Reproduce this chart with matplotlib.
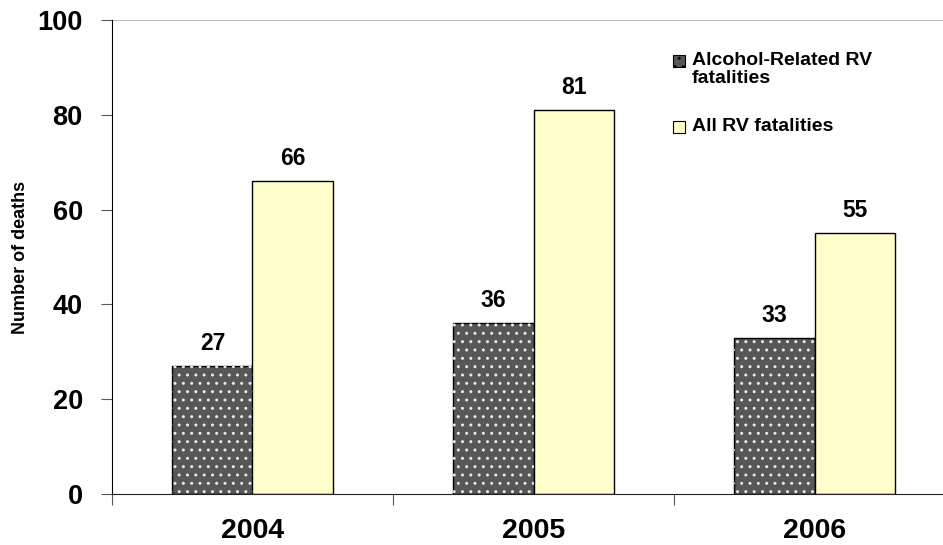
import matplotlib.pyplot as plt
from matplotlib.patches import Rectangle
import numpy as np

plt.rcParams['font.family'] = ['Liberation Sans', 'DejaVu Sans']
plt.rcParams['hatch.linewidth'] = 1.0

years = ["2004", "2005", "2006"]
alcohol = [27, 36, 33]
all_rv = [66, 81, 55]
labels = ["Alcohol-Related RV\nfatalities", "All RV fatalities"]
colors = ["#575757", "#ffffcc"]

W, H = 943, 545
fig = plt.figure(figsize=(W / 100, H / 100), dpi=100)
# the plot area runs off the right edge, as in the original
ax = fig.add_axes([112 / W, 51 / H, 843 / W, 474 / H])

x = np.arange(len(years)) + 0.5
w = 0.285

ax.bar(x - w / 2, alcohol, w, color=colors[0], edgecolor="black", lw=1, zorder=2)
# white dots on top of the dark bars
ax.bar(x - w / 2, alcohol, w, fill=False, hatch="..", edgecolor="#e8e8e8",
       lw=0, zorder=3)
ax.bar(x + w / 2, all_rv, w, color=colors[1], edgecolor="black", lw=1, zorder=2)

for xi, v in zip(x - w / 2, alcohol):
    ax.text(xi, v + 2.3, str(v), ha="center", va="bottom", fontsize=16.5, fontweight="bold")
for xi, v in zip(x + w / 2, all_rv):
    ax.text(xi, v + 2.3, str(v), ha="center", va="bottom", fontsize=16.5, fontweight="bold")

ax.axhline(100, color="#b0b0b0", lw=1.2, zorder=1)

ax.set_xlim(0, 3)
ax.set_ylim(0, 100)
ax.set_yticks(range(0, 101, 20))
ax.set_yticklabels([str(v) for v in range(0, 101, 20)], fontsize=19.5, fontweight="bold")
ax.set_xticks([0, 1, 2])
ax.set_xticklabels([])
ax.set_xticks(x, minor=True)
ax.set_xticklabels(years, minor=True, fontsize=20.5, fontweight="bold")
ax.tick_params(axis="x", which="minor", length=0, pad=17)
ax.tick_params(axis="x", which="major", length=8, color="#555555")
ax.tick_params(axis="y", length=8, color="#555555", pad=13)

ax.set_ylabel("Number of deaths", fontsize=13, fontweight="bold", labelpad=6)

for s in ["top", "right"]:
    ax.spines[s].set_visible(False)
ax.spines["bottom"].set_color("#222222")

# legend built by hand: swatch lines up with the first text line
leg_y = [61, 127]  # pixel rows from the top
for lab, col, yy, hatch in zip(labels, colors, leg_y, ["..", None]):
    fig.patches.append(Rectangle(((673) / W, 1 - (yy + 6) / H), 12 / W, 12 / H,
                                 transform=fig.transFigure, facecolor=col,
                                 edgecolor="black", lw=0.8, hatch=hatch))
    fig.text(692 / W, 1 - (yy - 9) / H, lab, ha="left", va="top", fontsize=14,
             fontweight="bold", linespacing=1.05)

fig.savefig("out.png", dpi=100)
